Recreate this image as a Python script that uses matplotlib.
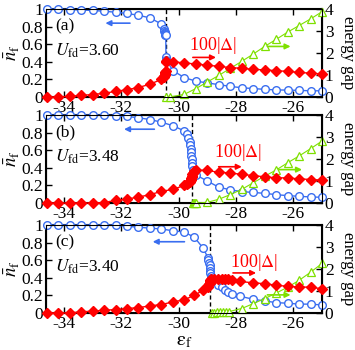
import numpy as np
import matplotlib
matplotlib.use("Agg")
import matplotlib.pyplot as plt

plt.rcParams['font.family'] = ['Liberation Serif', 'DejaVu Serif']
plt.rcParams['mathtext.fontset'] = 'stix'
plt.rcParams['axes.unicode_minus'] = False

# ---- panel (a), U_fd = 3.60
xa_n = [-34.6, -34.2, -33.8, -33.4, -33.0, -32.6, -32.2, -31.8, -31.4, -31.0, -30.6,
        -30.52, -30.5, -30.49, -30.48, -30.47, -30.46, -30.45, -30.44, -30.43,
        -30.2, -29.8, -29.4, -29.0, -28.6, -28.2, -27.8, -27.4, -27.0, -26.6, -26.2, -25.8, -25.4, -25.0]
na = [1.0, 1.0, 0.995, 0.99, 0.985, 0.975, 0.965, 0.95, 0.93, 0.90, 0.83,
      0.77, 0.75, 0.74, 0.73, 0.72, 0.71, 0.70, 0.45, 0.42,
      0.30, 0.22, 0.18, 0.16, 0.14, 0.12, 0.105, 0.095, 0.087, 0.08, 0.078, 0.075, 0.07, 0.07]
da = [0.0, 0.0, 0.03, 0.07, 0.11, 0.17, 0.25, 0.33, 0.43, 0.58, 0.8,
      0.92, 0.97, 1.0, 1.04, 1.08, 1.13, 1.2, 1.58, 1.62,
      1.6, 1.55, 1.5, 1.45, 1.39, 1.34, 1.3, 1.26, 1.23, 1.2, 1.16, 1.12, 1.08, 1.05]
xa_g = [-30.43, -30.3, -29.8, -29.4, -29.0, -28.6, -28.2, -27.8, -27.4, -27.0, -26.6, -26.2, -25.8, -25.4, -25.0]
ga = [0.0, 0.0, 0.12, 0.38, 0.68, 0.98, 1.3, 1.62, 1.95, 2.3, 2.62, 2.95, 3.25, 3.55, 3.88]

# ---- panel (b), U_fd = 3.48
xb_n = [-34.6, -34.2, -33.8, -33.4, -33.0, -32.6, -32.2, -31.8, -31.4, -31.0, -30.6, -30.2, -29.8,
        -29.72, -29.66, -29.62, -29.6, -29.58, -29.57, -29.56, -29.55, -29.54, -29.53, -29.5, -29.46, -29.4,
        -29.0, -28.6, -28.2, -27.8, -27.4, -27.0, -26.6, -26.2, -25.8, -25.4, -25.0]
nb = [1.0, 1.0, 1.0, 1.0, 1.0, 1.0, 0.995, 0.985, 0.97, 0.95, 0.92, 0.88, 0.82,
      0.78, 0.74, 0.70, 0.66, 0.62, 0.58, 0.54, 0.50, 0.46, 0.42, 0.38, 0.35, 0.32,
      0.25, 0.18, 0.15, 0.13, 0.12, 0.11, 0.095, 0.084, 0.076, 0.069, 0.065]
db = [0.0, 0.0, 0.0, 0.0, 0.0, 0.02, 0.12, 0.18, 0.27, 0.38, 0.53, 0.62, 0.8,
      0.85, 0.9, 0.95, 1.0, 1.05, 1.1, 1.15, 1.2, 1.25, 1.3, 1.38, 1.45, 1.5,
      1.48, 1.4, 1.37, 1.3, 1.25, 1.19, 1.15, 1.14, 1.1, 1.07, 1.04]
xb_g = [-29.5, -29.46, -29.42, -29.38, -29.0, -28.6, -28.2, -27.8, -27.4, -27.0, -26.6, -26.2, -25.8, -25.4, -25.0]
gb = [0.0, 0.0, 0.0, 0.0, 0.03, 0.17, 0.38, 0.62, 0.92, 1.22, 1.5, 1.83, 2.14, 2.47, 2.82]

# ---- panel (c), U_fd = 3.40
xc_n = [-34.6, -34.2, -33.8, -33.4, -33.0, -32.6, -32.2, -31.8, -31.4, -31.0, -30.6, -30.2, -29.8,
        -29.45, -29.15, -28.98, -28.96, -28.94, -28.92, -28.91, -28.9, -28.89, -28.88, -28.86,
        -28.75, -28.62, -28.5, -28.39, -28.27, -28.15, -27.86, -27.4, -27.0, -26.6, -26.2, -25.8, -25.4, -25.0]
nc = [1.0, 1.0, 1.0, 1.0, 1.0, 1.0, 1.0, 0.985, 0.975, 0.965, 0.955, 0.935, 0.92,
      0.86, 0.74, 0.63, 0.60, 0.57, 0.54, 0.51, 0.48, 0.45, 0.42, 0.40,
      0.36, 0.32, 0.29, 0.26, 0.24, 0.22, 0.19, 0.155, 0.136, 0.117, 0.11, 0.10, 0.10, 0.09]
dc = [0.0, 0.0, 0.0, 0.05, 0.08, 0.12, 0.15, 0.2, 0.24, 0.32, 0.38, 0.5, 0.6,
      0.8, 1.03, 1.2, 1.25, 1.3, 1.35, 1.4, 1.44, 1.48, 1.52, 1.55,
      1.56, 1.56, 1.56, 1.56, 1.55, 1.52, 1.43, 1.37, 1.33, 1.26, 1.21, 1.18, 1.17, 1.1]
xc_g = [-28.85, -28.75, -28.65, -28.55, -28.45, -28.35, -28.25, -27.8, -27.4, -27.0, -26.6, -26.2, -25.8, -25.4, -25.0]
gc = [0.0, 0.01, 0.02, 0.03, 0.04, 0.05, 0.06, 0.2, 0.42, 0.65, 0.9, 1.17, 1.48, 1.85, 2.25]

panels = [
    ("(a)", "3.60", -30.45, xa_n, na, da, xa_g, ga),
    ("(b)", "3.48", -29.52, xb_n, nb, db, xb_g, gb),
    ("(c)", "3.40", -28.91, xc_n, nc, dc, xc_g, gc),
]
# arrow / label positions (data coords): blue arrow (x0, x1, y), red text, red arrow, green arrow
notes = [
    ((-31.6, -32.65, 0.84), (-29.65, 2.35), (-29.6, -28.6, 1.8), (-27.0, -26.0, 2.3)),
    ((-30.75, -32.0, 0.84), (-28.75, 2.3), (-28.7, -27.7, 1.65), (-26.6, -25.6, 1.52)),
    ((-29.7, -31.0, 0.81), (-28.2, 2.3), (-28.2, -27.2, 1.82), (-27.0, -26.0, 0.82)),
]

blue = '#3a6ef0'
red = '#ff0000'
green = '#7ee000'

fig = plt.figure(figsize=(3.55, 3.5), dpi=100)
bottoms = [0.723, 0.42, 0.106]
fs = 12.5

for i, (lab, u, xt, xn, n, d, xg, g) in enumerate(panels):
    ax = fig.add_axes([0.13, bottoms[i], 0.777, 0.251])
    ax2 = ax.twinx()
    ax.plot(xn, n, '-o', color=blue, mfc='white', mec=blue, ms=5.5, lw=1, mew=1, clip_on=False, zorder=3)
    ax2.plot(xn, d, '-D', color=red, mfc=red, mec=red, ms=5.5, lw=1, clip_on=False, zorder=3)
    ax2.plot(xg, g, '-^', color=green, mfc='white', mec=green, ms=5.5, lw=0.8, mew=0.9, clip_on=False, zorder=2)
    ax.axvline(xt, color='black', ls='--', lw=1, dashes=(3, 2))

    ax.set_xlim(-34.62, -25.0)
    ax.set_ylim(0, 1)
    ax2.set_ylim(0, 4)
    ax.set_xticks([-34, -32, -30, -28, -26])
    ax.set_yticks([0, 0.2, 0.4, 0.6, 0.8, 1.0])
    ax.set_yticklabels(['0', '0.2', '0.4', '0.6', '0.8', '1'])
    ax2.set_yticks([0, 1, 2, 3, 4])
    ax.tick_params(direction='in', labelsize=fs, top=True, length=4, width=1, pad=2)
    ax2.tick_params(direction='in', labelsize=fs, length=4, width=1, pad=2)
    for sp in ax.spines.values():
        sp.set_linewidth(1.5)
    ax.set_ylabel(r'$\bar{n}_\mathrm{f}$', fontsize=fs + 1, labelpad=0)
    ax2.set_ylabel('energy gap', fontsize=fs - 0.5, rotation=-90, va='center', ha='center')
    ax2.yaxis.set_label_coords(1.095, 0.5)

    ax.text(-34.3, 0.8, lab, fontsize=fs, va='center')
    ax.text(-34.3, 0.53, r'$U_\mathrm{fd}$=' + u, fontsize=fs, va='center')

    b, rt, ra, ga_ = notes[i]
    ax.annotate('', xy=(b[1], b[2]), xytext=(b[0], b[2]),
                arrowprops=dict(arrowstyle='-|>', color=blue, lw=1.2, mutation_scale=8))
    ax2.text(rt[0], rt[1], r'100|$\Delta$|', color=red, fontsize=fs + 0.5, va='center')
    ax2.annotate('', xy=(ra[1], ra[2]), xytext=(ra[0], ra[2]),
                 arrowprops=dict(arrowstyle='-|>', color=red, lw=1.2, mutation_scale=8))
    ax2.annotate('', xy=(ga_[1], ga_[2]), xytext=(ga_[0], ga_[2]),
                 arrowprops=dict(arrowstyle='-|>', color=green, lw=1.2, mutation_scale=8))
    if i == 2:
        ax.set_xlabel(r'$\mathrm{\varepsilon_f}$', fontsize=fs + 2, labelpad=0)

fig.savefig('out.png', dpi=100)
